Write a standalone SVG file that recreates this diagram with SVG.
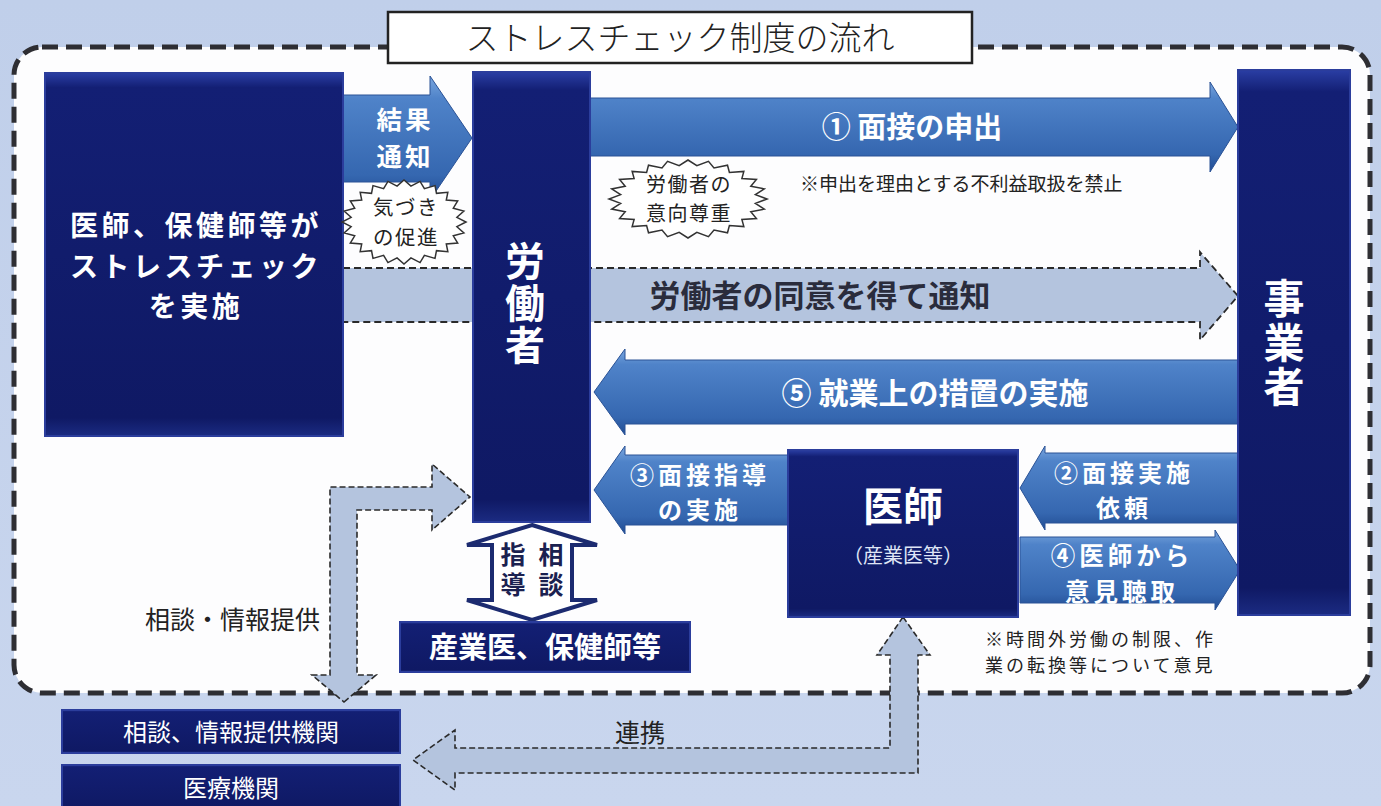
<svg xmlns="http://www.w3.org/2000/svg" width="1381" height="806" viewBox="0 0 1381 806">
<defs>
  <linearGradient id="bg" x1="0" y1="0" x2="0" y2="1">
    <stop offset="0" stop-color="#c0cfea"/>
    <stop offset="1" stop-color="#c9d6ee"/>
  </linearGradient>
  <linearGradient id="navy" x1="0" y1="0" x2="0" y2="1">
    <stop offset="0" stop-color="#2a3ea4"/>
    <stop offset="0.04" stop-color="#131f74"/>
    <stop offset="0.95" stop-color="#0f1964"/>
    <stop offset="1" stop-color="#1b2b82"/>
  </linearGradient>
  <linearGradient id="blue" x1="0" y1="0" x2="0" y2="1">
    <stop offset="0" stop-color="#7aa6de"/>
    <stop offset="0.18" stop-color="#4f83c9"/>
    <stop offset="0.8" stop-color="#3567b0"/>
    <stop offset="1" stop-color="#214c92"/>
  </linearGradient>
  <polygon id="burst" class="burst" points="1,0 0.853,0.112 0.966,0.259 0.795,0.329 0.866,0.5 0.682,0.524 0.707,0.707 0.524,0.682 0.5,0.866 0.329,0.795 0.259,0.966 0.112,0.853 0,1 -0.112,0.853 -0.259,0.966 -0.329,0.795 -0.5,0.866 -0.524,0.682 -0.707,0.707 -0.682,0.524 -0.866,0.5 -0.795,0.329 -0.966,0.259 -0.853,0.112 -1,0 -0.853,-0.112 -0.966,-0.259 -0.795,-0.329 -0.866,-0.5 -0.682,-0.524 -0.707,-0.707 -0.524,-0.682 -0.5,-0.866 -0.329,-0.795 -0.259,-0.966 -0.112,-0.853 0,-1 0.112,-0.853 0.259,-0.966 0.329,-0.795 0.5,-0.866 0.524,-0.682 0.707,-0.707 0.682,-0.524 0.866,-0.5 0.795,-0.329 0.966,-0.259 0.853,-0.112"/>
</defs>
<style>
  text { font-family: "Noto Sans CJK JP", "Noto Sans CJK SC", sans-serif; }
  .box { fill: url(#navy); stroke: #2b3d9c; stroke-width: 2; }
  .w { fill: #ffffff; font-weight: 700; text-anchor: middle; }
  .wl { fill: #ffffff; font-weight: 400; text-anchor: middle; }
  .vt { writing-mode: vertical-rl; text-anchor: middle; }
  .arr { fill: url(#blue); stroke: #2a5296; stroke-width: 1; }
  .lt { fill: #b4c4de; stroke: #2a2a2a; stroke-width: 1.6; stroke-dasharray: 6 3; }
  .note { fill: #222222; font-weight: 400; }
  .burst { fill: #ffffff; stroke: #333333; stroke-width: 1.5; vector-effect: non-scaling-stroke; }
</style>

<rect x="0" y="0" width="1381" height="806" fill="url(#bg)"/>

<g id="frame">
  <rect x="14" y="47" width="1356" height="646" rx="28" ry="28" fill="#fdfdfe" stroke="#2e2e33" stroke-width="5" stroke-dasharray="16 8"/>
</g>

<g id="title">
  <rect x="388" y="12" width="584" height="51" fill="#ffffff" stroke="#222222" stroke-width="2.5"/>
  <text x="680" y="50" font-size="33" fill="#222222" text-anchor="middle" font-weight="300">ストレスチェック制度の流れ</text>
</g>

<g id="connectors">
  <g id="c-consent">
    <polygon points="343,268 1200,268 1200,252 1238,296 1200,340 1200,322 343,322" fill="#b4c4de" stroke="none"/>
    <path d="M343,268 H1200 V252 L1238,296 L1200,340 V322 H343" fill="none" stroke="#2a2a2a" stroke-width="1.8" stroke-dasharray="7 4"/>
    <text x="820" y="307" font-size="31" font-weight="700" fill="#2a2c3c" text-anchor="middle">労働者の同意を得て通知</text>
  </g>
  <g id="c-result">
    <polygon class="arr" points="343,95 430,95 430,76 472,138 430,200 430,182 343,182"/>
    <text class="w" x="405" y="129" font-size="25.5" letter-spacing="3">結果<tspan x="405" dy="37">通知</tspan></text>
  </g>
  <g id="c-1">
    <polygon class="arr" points="590,98 1210,98 1210,82 1238,127 1210,172 1210,156 590,156"/>
    <text class="w" x="912" y="138" font-size="29">① 面接の申出</text>
  </g>
  <g id="c-5">
    <polygon class="arr" points="1238,360 625,360 625,349 594,392 625,435 625,424 1238,424"/>
    <text class="w" x="935" y="404" font-size="30">⑤ 就業上の措置の実施</text>
  </g>
  <g id="c-3">
    <polygon class="arr" points="788,455 625,455 625,446 594,490 625,534 625,525 788,525"/>
    <text class="w" x="700" y="484" font-size="24" letter-spacing="4">③面接指導<tspan x="700" dy="35">の実施</tspan></text>
  </g>
  <g id="c-2">
    <polygon class="arr" points="1238,453 1045,453 1045,446 1020,488 1045,530 1045,523 1238,523"/>
    <text class="w" x="1124" y="482" font-size="24" letter-spacing="4">②面接実施<tspan x="1124" dy="35">依頼</tspan></text>
  </g>
  <g id="c-4">
    <polygon class="arr" points="1020,537 1215,537 1215,530 1240,570 1215,610 1215,603 1020,603"/>
    <text class="w" x="1122" y="565" font-size="24.5" letter-spacing="4">④医師から<tspan x="1122" dy="36">意見聴取</tspan></text>
  </g>
  <g id="c-guidance">
    <polygon points="532,525 597,545 572,545 572,600 597,600 532,620 467,600 492,600 492,545 467,545" fill="#ffffff" stroke="#1c2b70" stroke-width="4" stroke-linejoin="miter"/>
    <text class="vt" x="551" y="572" font-size="25" font-weight="700" fill="#1b2150" letter-spacing="5">相談</text>
    <text class="vt" x="513" y="572" font-size="25" font-weight="700" fill="#1b2150" letter-spacing="5">指導</text>
  </g>
  <g id="c-consult">
    <polygon class="lt" points="344,702 376,675 357,675 357,510 432,510 432,530 470,497 432,464 432,487 330,487 330,675 312,675"/>
    <text class="note" x="320" y="629" font-size="25" text-anchor="end">相談・情報提供</text>
  </g>
  <g id="c-link">
    <polygon class="lt" points="903,617 930,655 918,655 918,773 455,773 455,790 413,760 455,730 455,748 890,748 890,655 877,655"/>
    <text class="note" x="640" y="742" font-size="25" text-anchor="middle">連携</text>
  </g>
</g>

<g id="n-check">
  <rect class="box" x="45" y="73" width="298" height="363"/>
  <text class="w" x="196" y="236" font-size="28" letter-spacing="3.5">医師、保健師等が<tspan x="196" dy="40.6">ストレスチェック</tspan><tspan x="196" dy="40.6">を実施</tspan></text>
</g>

<g id="n-worker">
  <rect class="box" x="473" y="72" width="117" height="450"/>
  <text class="w vt" x="525" y="304" font-size="40" letter-spacing="2">労働者</text>
</g>

<g id="n-employer">
  <rect class="box" x="1238" y="70" width="112" height="545"/>
  <text class="w vt" x="1284" y="344" font-size="41" letter-spacing="3">事業者</text>
</g>

<g id="n-doctor">
  <rect class="box" x="788" y="450" width="230" height="167"/>
  <text class="w" x="903" y="521" font-size="40">医師</text>
  <text x="903" y="563" font-size="20" fill="#dfe5f6" text-anchor="middle">（産業医等）</text>
</g>

<g id="n-occupational">
  <rect class="box" x="400" y="622" width="290" height="50"/>
  <text class="w" x="545" y="658" font-size="29">産業医、保健師等</text>
</g>

<g id="n-consult-org">
  <rect class="box" x="62" y="710" width="338" height="43"/>
  <text class="wl" x="231" y="741" font-size="24">相談、情報提供機関</text>
</g>

<g id="n-medical">
  <rect class="box" x="62" y="765" width="338" height="45"/>
  <text class="wl" x="231" y="797" font-size="24">医療機関</text>
</g>

<g id="n-awareness">
  <use href="#burst" transform="translate(404,222) scale(62,42)"/>
  <text x="406" y="215" font-size="20.5" fill="#222222" text-anchor="middle" letter-spacing="1.5">気づき<tspan x="406" dy="30">の促進</tspan></text>
</g>

<g id="n-respect">
  <use href="#burst" transform="translate(688,199) scale(79,39)"/>
  <text x="689" y="192" font-size="20" fill="#222222" text-anchor="middle" letter-spacing="1.5">労働者の<tspan x="689" dy="29">意向尊重</tspan></text>
</g>

<g id="notes">
  <text class="note" x="800" y="191" font-size="19">※申出を理由とする不利益取扱を禁止</text>
  <text class="note" x="985" y="646" font-size="18" letter-spacing="3">※時間外労働の制限、作<tspan x="985" dy="26.2">業の転換等について意見</tspan></text>
</g>
</svg>
